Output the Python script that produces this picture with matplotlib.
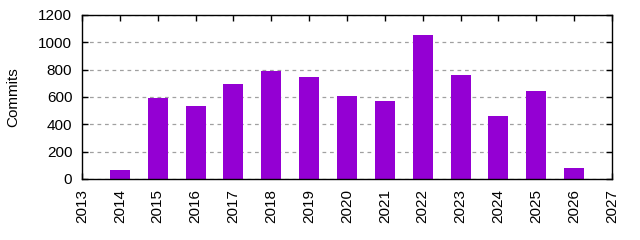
import matplotlib
matplotlib.use('Agg')
import matplotlib.pyplot as plt

years = [2014, 2015, 2016, 2017, 2018, 2019, 2020, 2021, 2022, 2023, 2024, 2025, 2026]
commits = [65, 595, 534, 695, 792, 746, 607, 571, 1056, 761, 461, 646, 80]

plt.rcParams['font.family'] = ['Liberation Sans', 'DejaVu Sans']
plt.rcParams['font.size'] = 11

fig = plt.figure(figsize=(6.4, 2.4), dpi=100)
ax = fig.add_axes([82 / 640, 1 - 179 / 240, 530 / 640, 164 / 240])

ax.bar(years, commits, width=0.53, color='#9400d3', zorder=2)

ax.set_xlim(2013, 2027)
ax.set_ylim(0, 1200)
ax.set_xticks(range(2013, 2028))
ax.set_xticklabels([str(y) for y in range(2013, 2028)], rotation=90)
ax.set_yticks(range(0, 1201, 200))
ax.set_ylabel('Commits')
ax.yaxis.set_label_coords(-62 / 530, 0.5)

ax.grid(True, axis='y', linestyle=(0, (3, 3)), color='#a0a0a0', linewidth=0.9, zorder=1)
ax.tick_params(direction='in', top=True, right=True, length=4, width=1, pad=7)
for s in ax.spines.values():
    s.set_linewidth(1)

fig.savefig('out.png', dpi=100)
